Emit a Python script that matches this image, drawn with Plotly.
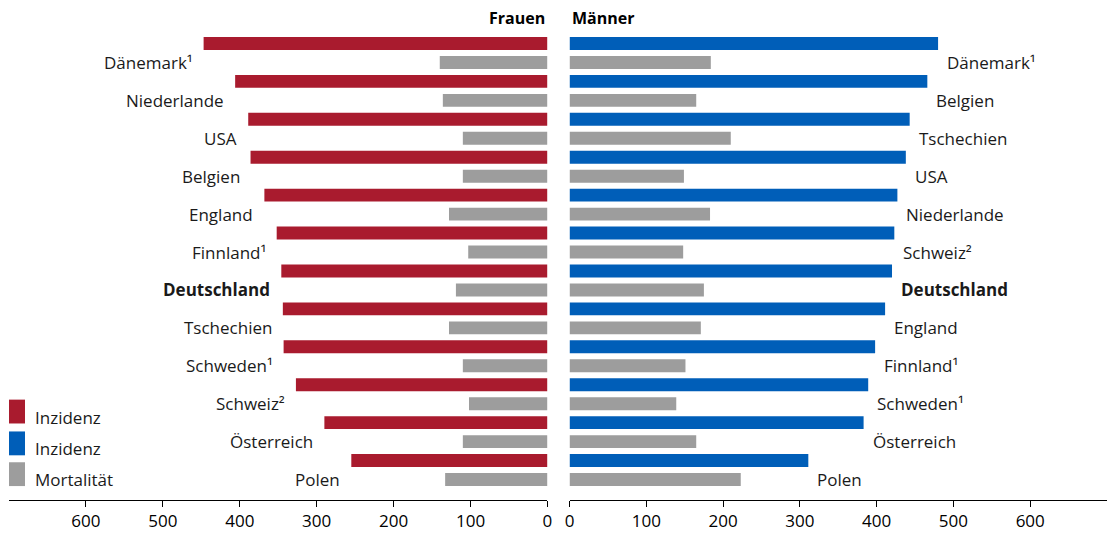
import plotly.graph_objects as go

# ---------------- data ----------------
frauen_laender = ["Dänemark", "Niederlande", "USA", "Belgien", "England", "Finnland",
                  "Deutschland", "Tschechien", "Schweden", "Schweiz", "Österreich", "Polen"]
frauen_labels = ["Dänemark¹", "Niederlande", "USA", "Belgien", "England",
                 "Finnland¹", "<b>Deutschland</b>", "Tschechien",
                 "Schweden¹", "Schweiz²", "Österreich", "Polen"]
frauen_inzidenz = [447, 406, 389, 386, 368, 352, 346, 344, 343, 327, 290, 255]
frauen_mortalitaet = [140, 136, 110, 110, 128, 103, 119, 128, 110, 102, 110, 133]

maenner_laender = ["Dänemark", "Belgien", "Tschechien", "USA", "Niederlande", "Schweiz",
                   "Deutschland", "England", "Finnland", "Schweden", "Österreich", "Polen"]
maenner_labels = ["Dänemark¹", "Belgien", "Tschechien", "USA", "Niederlande",
                  "Schweiz²", "<b>Deutschland</b>", "England",
                  "Finnland¹", "Schweden¹", "Österreich", "Polen"]
maenner_inzidenz = [480, 466, 443, 438, 427, 423, 420, 411, 398, 389, 383, 311]
maenner_mortalitaet = [184, 165, 210, 149, 183, 148, 175, 171, 151, 139, 165, 223]

tick_values = [0, 100, 200, 300, 400, 500, 600]
legend_labels = ["Inzidenz", "Inzidenz", "Mortalität"]

# ---------------- style ----------------
RED = "#A91B2E"
BLUE = "#005EB8"
GRAY = "#9D9D9D"
FONT = "Open Sans"
K = 1116 / 1110.0
FS = 17

fig = go.Figure()

fig.add_trace(go.Bar(y=frauen_laender, x=frauen_inzidenz, orientation="h",
                     marker=dict(color=RED, line_width=0), xaxis="x", yaxis="y",
                     name="Inzidenz", showlegend=False, hoverinfo="x+y"))
fig.add_trace(go.Bar(y=frauen_laender, x=frauen_mortalitaet, orientation="h",
                     marker=dict(color=GRAY, line_width=0), xaxis="x", yaxis="y",
                     name="Mortalität", showlegend=False, hoverinfo="x+y"))
fig.add_trace(go.Bar(y=maenner_laender, x=maenner_inzidenz, orientation="h",
                     marker=dict(color=BLUE, line_width=0), xaxis="x2", yaxis="y2",
                     name="Inzidenz", showlegend=False, hoverinfo="x+y"))
fig.add_trace(go.Bar(y=maenner_laender, x=maenner_mortalitaet, orientation="h",
                     marker=dict(color=GRAY, line_width=0), xaxis="x2", yaxis="y2",
                     name="Mortalität", showlegend=False, hoverinfo="x+y"))

L_DOM = [0, 0.4904]
R_DOM = [0.5105, 1]
yrange = [11.79, -0.5]

xcommon = dict(showgrid=False, zeroline=False, showline=True, linecolor="black",
               linewidth=1, ticks="outside", ticklen=6, tickcolor="black", tickwidth=1,
               tickvals=tick_values, tickfont=dict(family=FONT, size=FS, color="black"),
               fixedrange=True)

fig.update_layout(
    width=round(1110 * K), height=round(533 * K),
    margin=dict(l=9 * K, r=4 * K, t=34 * K, b=30 * K),
    paper_bgcolor="white", plot_bgcolor="white",
    barmode="group", bargap=0, bargroupgap=0.32,
    font=dict(family=FONT, size=FS, color="#1a1a1a"),
    xaxis=dict(domain=L_DOM, range=[700, 0], anchor="y", **xcommon),
    xaxis2=dict(domain=R_DOM, range=[0, 700], anchor="y2", **xcommon),
    yaxis=dict(type="category", categoryorder="array", categoryarray=frauen_laender,
               range=yrange, showticklabels=False, showgrid=False, zeroline=False,
               showline=False, ticks="", anchor="x", domain=[0, 1], fixedrange=True),
    yaxis2=dict(type="category", categoryorder="array", categoryarray=maenner_laender,
                range=yrange, showticklabels=False, showgrid=False, zeroline=False,
                showline=False, ticks="", anchor="x2", domain=[0, 1], fixedrange=True),
    showlegend=False,
)

ann = []
# panel titles
ann.append(dict(text="<b>Frauen</b>", x=0, xref="x", xanchor="right",
                y=1, yref="paper", yanchor="bottom", yshift=3, showarrow=False,
                font=dict(family=FONT, size=16, color="black")))
ann.append(dict(text="<b>Männer</b>", x=0, xref="x2", xanchor="left",
                y=1, yref="paper", yanchor="bottom", yshift=3, showarrow=False,
                font=dict(family=FONT, size=16, color="black")))

# country labels (on the mortality row, next to the end of the incidence bar)
for land, lab, v in zip(frauen_laender, frauen_labels, frauen_inzidenz):
    ann.append(dict(text=lab, x=v, xref="x", y=land, yref="y", xanchor="right",
                    yanchor="middle", xshift=-9, yshift=-9.5, showarrow=False,
                    font=dict(family=FONT, size=FS, color="#1a1a1a")))
for land, lab, v in zip(maenner_laender, maenner_labels, maenner_inzidenz):
    ann.append(dict(text=lab, x=v, xref="x2", y=land, yref="y2", xanchor="left",
                    yanchor="middle", xshift=7, yshift=-9.5, showarrow=False,
                    font=dict(family=FONT, size=FS, color="#1a1a1a")))

# manual legend
shapes = []
leg_colors = [RED, BLUE, GRAY]
leg_box_y = [(0.1642, 0.2154), (0.0959, 0.1471), (0.0299, 0.0810)]
leg_text_y = [0.177, 0.111, 0.043]
for c, (y0, y1), ty, t in zip(leg_colors, leg_box_y, leg_text_y, legend_labels):
    shapes.append(dict(type="rect", xref="paper", yref="paper", x0=0, x1=0.0146,
                       y0=y0, y1=y1, fillcolor=c, line_width=0))
    ann.append(dict(text=t, x=0.0219, xref="paper", xanchor="left", y=ty, yref="paper",
                    yanchor="middle", showarrow=False,
                    font=dict(family=FONT, size=FS, color="#1a1a1a")))

fig.update_layout(annotations=ann, shapes=shapes)

fig.write_html("out.html", config={"displayModeBar": False},
               post_script="document.body.style.margin='0';document.body.style.overflow='hidden';")
